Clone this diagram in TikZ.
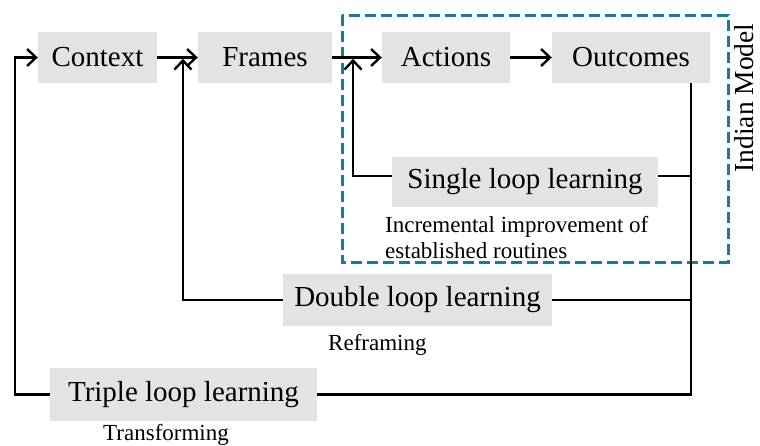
\documentclass[tikz,border=0pt]{standalone}
\usepackage{fontspec}
\setmainfont{Liberation Serif}
\usetikzlibrary{arrows.meta,calc}
\definecolor{boxgray}{RGB}{227,227,227}
\definecolor{modelteal}{RGB}{30,122,142}
\tikzset{
  stage/.style={fill=boxgray, inner sep=0pt, minimum height=51pt,
    font=\fontsize{29}{34}\selectfont},
  note/.style={inner sep=0pt, font=\fontsize{23}{26}\selectfont},
  link/.style={line width=2.6pt},
  arr/.style={line width=2.6pt, -{Straight Barb[length=9pt,width=17pt,line width=2.4pt]}},
}
\begin{document}
\begin{tikzpicture}[x=1pt,y=-1pt]
\useasboundingbox (0,0) rectangle (760,445);

% model boundary
\draw[modelteal, line width=3pt, dash pattern=on 11pt off 5pt]
  (342,15) rectangle (728,262);
\node[rotate=90, inner sep=0pt, font=\fontsize{27.5}{33}\selectfont] (model) at (744,98) {Indian Model};

% main chain
\node[stage, minimum width=119pt] (context)  at (97.5,57.5) {Context};
\node[stage, minimum width=134pt] (frames)   at (265,57.5)  {Frames};
\node[stage, minimum width=128pt] (actions)  at (446,57.5)  {Actions};
\node[stage, minimum width=158pt] (outcomes) at (631,57.5)  {Outcomes};

% learning loops
\node[stage, minimum width=266pt, minimum height=50pt] (single) at (525,182) {Single loop learning};
\node[stage, minimum width=269pt, minimum height=52pt] (double) at (417.5,300) {Double loop learning};
\node[stage, minimum width=267pt, minimum height=53pt] (triple) at (183.5,394.5) {Triple loop learning};

% descriptions
\node[note, anchor=north west, align=left] (incr) at (385,216.5)
  {Incremental improvement of\\established routines};
\node[note, anchor=base west] (refr) at (328,350) {Reframing};
\node[note, anchor=base west] (trans) at (103,440) {Transforming};

% junction points
\coordinate (trunk) at (691,394.5);
\coordinate (cf) at ($(context.east)!0.634!(frames.west)$);
\coordinate (fa) at ($(frames.east)!0.42!(actions.west)$);
\coordinate (sR) at ([yshift=6pt]single.east);
\coordinate (sL) at ([yshift=6pt]single.west);

% forward arrows
\draw[arr] (context.east) -- (frames.west);
\draw[arr] (frames.east) -- (actions.west);
\draw[arr] (actions.east) -- (outcomes.west);

% feedback trunk from outcomes
\draw[link] (outcomes.south -| trunk) -- (trunk) -- (triple.east);
\draw[link] (sR) -- (sR -| trunk);
\draw[link] (double.east) -- (double.east -| trunk);

% feedback arrows
\draw[arr] (sL) -| ([yshift=-1.3pt]fa);
\draw[arr] (double.west) -| ([yshift=-1.3pt]cf);
\draw[arr] (triple.west) -- ++(-35,0) |- (context.west);
\end{tikzpicture}
\end{document}
